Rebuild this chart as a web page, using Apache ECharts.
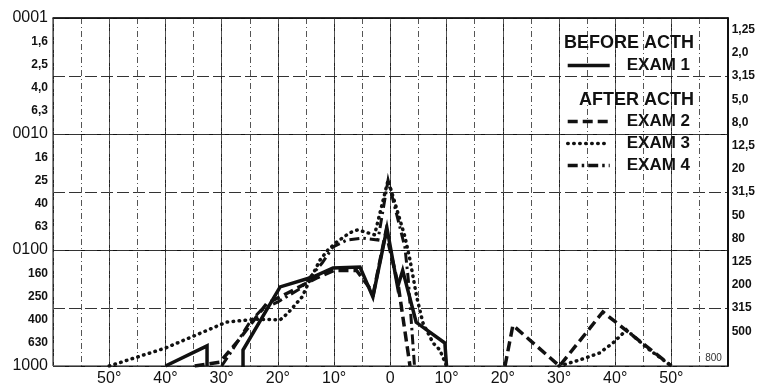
<!DOCTYPE html>
<html><head><meta charset="utf-8">
<script src="https://cdn.jsdelivr.net/npm/echarts@6/dist/echarts.min.js"></script>
<style>html,body{margin:0;padding:0;background:#fff}#c{width:758px;height:387px}</style>
</head><body><div id="c"></div>
<script>
// ---- tick labels ----
const leftLabels = ['0001','1,6','2,5','4,0','6,3','0010','16','25','40','63','0100','160','250','400','630','1000'];
const rightLabels = ['1,25','2,0','3,15','5,0','8,0','12,5','20','31,5','50','80','125','200','315','500','800'];
const bigLabels = ['0001','0010','0100','1000'];
const seriesNames = ['EXAM 1','EXAM 2','EXAM 3','EXAM 4'];
const headerBefore = 'BEFORE ACTH';
const headerAfter = 'AFTER ACTH';

// ---- data: [degrees (left negative), threshold value] ----
const exam1a = [[-40,1000],[-32.6,670],[-32.6,1000]];
const exam1b = [[-26.2,1000],[-26.2,728],[-19.6,208],[-13.8,171],[-10.2,143],[-5.4,140],[-3.1,254],[-0.6,65],[1.3,208],[2.2,150],[4.6,420],[9.7,633],[10,1000]];
const exam2a = [[-34.8,1000],[-30.3,925],[-27,600],[-22,290],[-17.9,230],[-14.8,192],[-13.1,174],[-10,150],[-6,150],[-3,235],[-0.8,70],[1.4,200],[3.5,1000]];
const exam2b = [[20.4,1000],[21.8,446],[30.1,1000],[37.8,342],[50,1000]];
const exam3a = [[-50,1000],[-40,700],[-29.1,418],[-24,395],[-19.6,400],[-18.2,349],[-15.7,254],[-14.3,181],[-12.5,122],[-11.1,100],[-9.5,85],[-7.2,71],[-5.8,67],[-2.8,74],[-0.4,25],[0.8,39],[2.6,77],[3.5,122],[4.7,254],[5.8,426],[7.6,633],[8.8,726],[10,1000]];
const exam3b = [[30,1000],[33.7,887],[37.2,773],[39.6,633],[42,489],[45.9,713],[50,1000]];
const exam4 = [[-30,1000],[-28.5,780],[-25,420],[-23,330],[-20,280],[-16,215],[-12.1,129],[-10.2,94],[-7.7,82],[-4.9,79],[-2.2,82],[-0.4,25],[2.6,95],[3.2,180],[4.3,1000]];

const FONT = '"Liberation Sans", Arial, sans-serif';

function lineSeries(name, data, dash, width, cap) {
  return {
    type: 'line', name: name, data: data, xAxisIndex: 0, yAxisIndex: 0,
    symbol: 'none', showSymbol: false, z: 5, animation: false,
    itemStyle: { color: '#111' },
    lineStyle: { color: '#111', width: width, type: dash, cap: cap || 'butt', join: 'miter' }
  };
}

const chart = echarts.init(document.getElementById('c'), null, { renderer: 'canvas' });
const labelAxisBase = { type: 'value', min: 0, max: 3, inverse: true, interval: 0.1,
  axisTick: { show: false }, splitLine: { show: false } };
const legendText = { fontFamily: FONT, fontSize: 17, fontWeight: 'bold', color: '#111', padding: [0,0,0,12] };

chart.setOption({
  backgroundColor: '#fff',
  animation: false,
  grid: { left: 53, right: 30, top: 18, bottom: 21, show: true, borderColor: '#111', borderWidth: 1 },
  title: [
    { text: headerBefore, right: 64, top: 34, padding: 0,
      textStyle: { fontFamily: FONT, fontSize: 18, fontWeight: 'bold', color: '#111' } },
    { text: headerAfter, right: 64, top: 91, padding: 0,
      textStyle: { fontFamily: FONT, fontSize: 18, fontWeight: 'bold', color: '#111' } }
  ],
  legend: [
    { data: [seriesNames[0]], right: 68, top: 57, padding: 0, orient: 'vertical',
      itemWidth: 42, itemHeight: 14, selectedMode: false,
      itemStyle: { opacity: 0 }, lineStyle: { width: 3.5 }, textStyle: legendText },
    { data: seriesNames.slice(1), right: 68, top: 113, padding: 0, orient: 'vertical', itemGap: 5,
      itemWidth: 42, itemHeight: 14, selectedMode: false,
      itemStyle: { opacity: 0 }, lineStyle: { width: 3.5 }, textStyle: legendText }
  ],
  xAxis: [
    { type: 'value', min: -60, max: 60, interval: 10,
      axisLine: { show: true, lineStyle: { color: '#111', width: 1.5 } },
      axisTick: { show: false },
      splitLine: { show: true, lineStyle: { color: '#222', width: 1 } },
      axisLabel: { fontFamily: FONT, fontSize: 16, color: '#111', margin: 5,
        formatter: function (v) { if (Math.abs(v) >= 60) return ''; if (v === 0) return '0'; return Math.abs(v) + '°'; } } },
    { type: 'value', min: -60, max: 60, interval: 5, show: true,
      axisLine: { show: false }, axisTick: { show: false }, axisLabel: { show: false },
      splitLine: { show: true, lineStyle: { color: '#555', width: 1, type: [6, 3, 1, 3] } } }
  ],
  yAxis: [
    { type: 'log', logBase: 10, min: 1, max: 1000, inverse: true,
      axisLine: { show: false }, axisTick: { show: false }, axisLabel: { show: false },
      splitLine: { show: true, lineStyle: { color: '#111', width: 1 } } },
    Object.assign({}, labelAxisBase, { position: 'left',
      axisLine: { show: false },
      axisLabel: { margin: 5, fontFamily: FONT, fontSize: 12, fontWeight: 'bold', color: '#111',
        formatter: function (v) {
          const i = Math.round(v * 10);
          if (i % 2 !== 0) return '';
          const t = leftLabels[i / 2];
          return bigLabels.indexOf(t) >= 0 ? '{big|' + t + '}' : t;
        },
        rich: { big: { fontFamily: FONT, fontSize: 16, fontWeight: 'normal', color: '#111' } } } }),
    Object.assign({}, labelAxisBase, { position: 'right',
      axisLine: { show: true, lineStyle: { color: '#111', width: 2 } },
      axisLabel: { margin: 4, fontFamily: FONT, fontSize: 12, fontWeight: 'bold', color: '#111',
        formatter: function (v) {
          const i = Math.round(v * 10);
          if (i % 2 !== 1 || i === 29) return '';
          return rightLabels[(i - 1) / 2];
        } } }),
    { type: 'value', min: 0, max: 3, interval: 0.5, inverse: true,
      axisLine: { show: false }, axisTick: { show: false }, axisLabel: { show: false },
      splitLine: { show: true, lineStyle: { color: '#333', width: 1, type: [12, 4] } } }
  ],
  series: [
    lineSeries(seriesNames[0], exam1a, 'solid', 3.5),
    lineSeries(seriesNames[0], exam1b, 'solid', 3.5),
    lineSeries(seriesNames[1], exam2a, [10, 5], 3.5),
    lineSeries(seriesNames[1], exam2b, [10, 5], 3.5),
    lineSeries(seriesNames[2], exam3a, [0.5, 5.5], 3.5, 'round'),
    lineSeries(seriesNames[2], exam3b, [0.5, 5.5], 3.5, 'round'),
    lineSeries(seriesNames[3], exam4, [10, 4, 2.5, 4], 3)
  ]
});

// last right-axis label sits inside the frame in the original
const p = chart.convertToPixel({ xAxisIndex: 0, yAxisIndex: 0 }, [57.5, 850]);
chart.setOption({ graphic: [{ type: 'text', x: p[0], y: p[1],
  style: { text: rightLabels[rightLabels.length - 1], fontFamily: FONT, fontSize: 10, fill: '#333',
    align: 'center', verticalAlign: 'middle' } }] });
</script>
</body></html>
